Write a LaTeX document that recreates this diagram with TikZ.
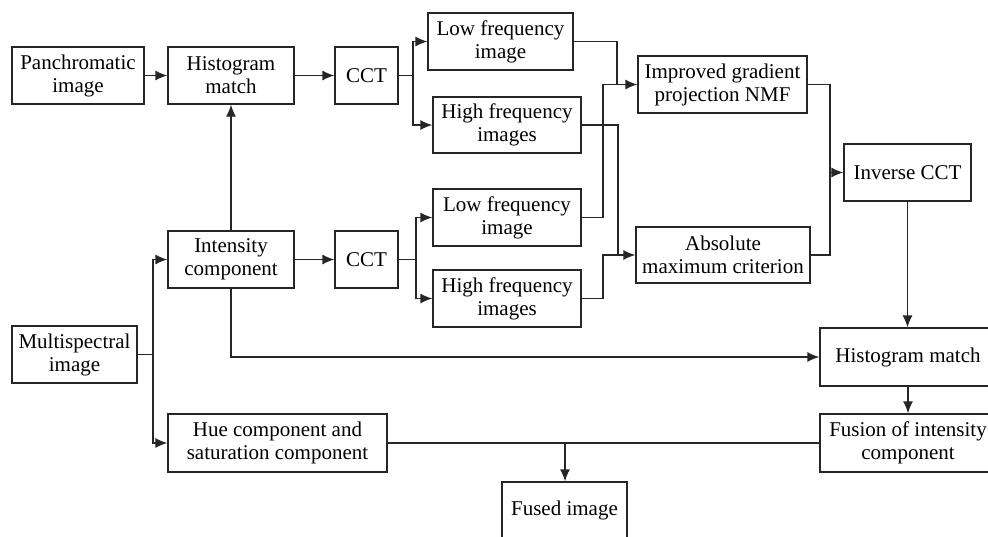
\documentclass[tikz,border=0pt]{standalone}
\usepackage{fontspec}
\setmainfont{Liberation Serif}
\usetikzlibrary{arrows.meta}
\begin{document}
\begin{tikzpicture}[x=1pt,y=-1pt,
  box/.style={draw=black!85,line width=1.3pt,inner sep=0pt,align=center,
    font=\fontsize{21}{23}\selectfont,minimum height=57pt},
  conn/.style={draw=black!85,line width=1.3pt},
  arr/.style={conn,-{Latex[length=12pt,width=10pt]}}]
\useasboundingbox (0,0) rectangle (988,536);
\fill[white] (0,0) rectangle (988,536);
\clip (0,0) rectangle (988,536);
% nodes
\node[box,minimum width=132pt] (pan) at (78,75.5) {Panchromatic\\image};
\node[box,minimum width=126pt] (hm1) at (231,75.5) {Histogram\\match};
\node[box,minimum width=63pt] (cct1) at (366.5,75.5) {CCT};
\node[box,minimum width=145pt] (lf1) at (500.5,41.5) {Low frequency\\image};
\node[box,minimum width=148pt,minimum height=56pt] (hf1) at (507,125) {High frequency\\images};
\node[box,minimum width=169pt] (nmf) at (722.5,84.5) {Improved gradient\\projection NMF};
\node[box,minimum width=127pt] (inv) at (907.5,172.5) {Inverse CCT};
\node[box,minimum width=126pt] (int) at (231,259.5) {Intensity\\component};
\node[box,minimum width=63pt] (cct2) at (366.5,259.5) {CCT};
\node[box,minimum width=148pt] (lf2) at (507,217.5) {Low frequency\\image};
\node[box,minimum width=148pt] (hf2) at (507,298.5) {High frequency\\images};
\node[box,minimum width=174pt,minimum height=56pt] (abs) at (723,255) {Absolute\\maximum criterion};
\node[box,minimum width=125pt] (ms) at (74.5,354.5) {Multispectral\\image};
\node[box,minimum width=219pt,minimum height=58pt] (hue) at (277.5,443) {Hue component and\\saturation component};
\node[box,minimum width=176pt,minimum height=58pt] (hm2) at (908,357) {Histogram match};
\node[box,minimum width=176pt,minimum height=58pt] (fus) at (908,443) {Fusion of intensity\\component};
\node[box,minimum width=125pt,minimum height=56pt] (fused) at (564.5,510) {Fused image};
% junction coordinates
\coordinate (b1) at (413,75.5);
\coordinate (b2) at (416,259.5);
\coordinate (j1) at (617,84.5);
\coordinate (j2) at (603,84.5);
\coordinate (j3) at (618,255);
\coordinate (j4) at (603,255);
\coordinate (j5) at (830,172.5);
\coordinate (bm) at (153,354.5);
\coordinate (ib) at (231,357);
\coordinate (fj) at (565,443);
% connectors
\draw[arr] (pan) -- (hm1);
\draw[arr] (hm1) -- (cct1);
\draw[conn] (cct1.east) -- (b1);
\draw[arr] (b1) |- (lf1.west);
\draw[arr] (b1) |- (hf1.west);
\draw[conn] (lf1.east) -| (j1);
\draw[arr] (lf2.east) -| (j2) -- (nmf.west);
\draw[conn] (hf1.east) -| (j3);
\draw[arr] (hf2.east) -| (j4) -- (abs.west);
\draw[conn] (nmf.east) -| (j5);
\draw[arr] (abs.east) -| (j5) -- (inv.west);
\draw[arr] (inv.south) -- (inv.south |- hm2.north);
\draw[arr] (hm2.south) -- (fus.north);
\draw[conn] (fus.west) -- (hue.east);
\draw[arr] (fj) -- (fj |- fused.north);
\draw[arr] (int.north) -- (hm1.south);
\draw[arr] (int) -- (cct2);
\draw[conn] (cct2.east) -- (b2);
\draw[arr] (b2) |- (lf2.west);
\draw[arr] (b2) |- (hf2.west);
\draw[arr] (int.south) -- (ib) -- (hm2.west);
\draw[conn] (ms.east) -- (bm);
\draw[arr] (bm) |- (int.west);
\draw[arr] (bm) |- (hue.west);
\end{tikzpicture}
\end{document}
